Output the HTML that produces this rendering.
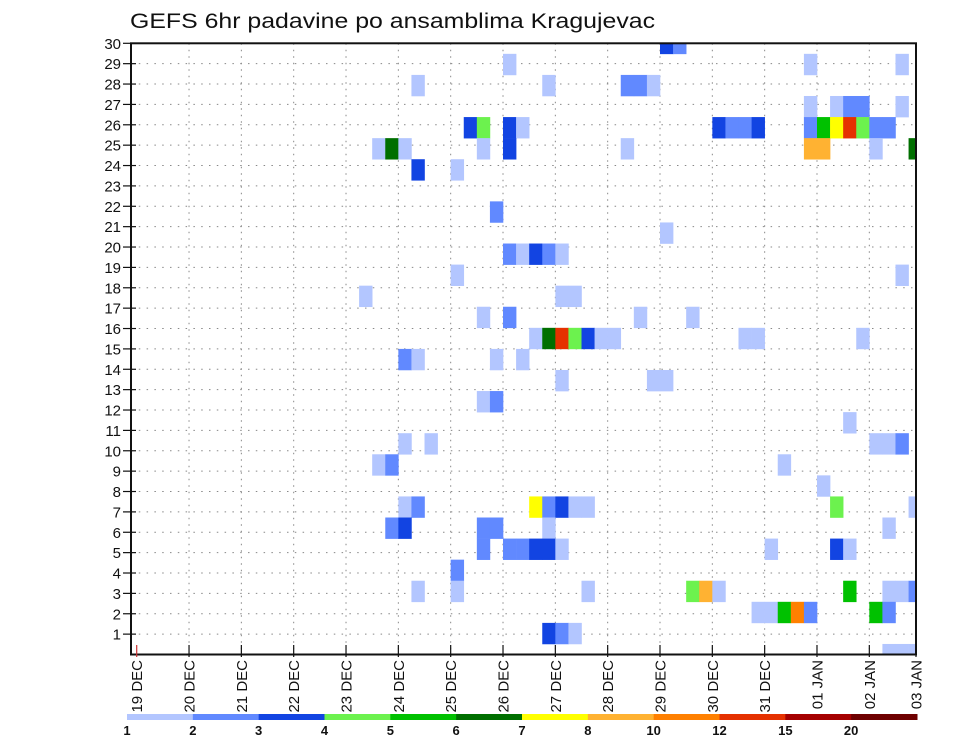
<!DOCTYPE html>
<html><head><meta charset="utf-8"><style>
html,body{margin:0;padding:0;background:#fff;}
svg{display:block;font-family:"Liberation Sans","DejaVu Sans",sans-serif;}
</style></head><body>
<svg id="chart" width="960" height="742" viewBox="0 0 960 742" xmlns="http://www.w3.org/2000/svg">
<defs><clipPath id="plotclip"><rect x="131" y="43.3" width="785" height="611.2"/></clipPath></defs>
<text x="130" y="28" font-size="21" textLength="525" lengthAdjust="spacingAndGlyphs" fill="#111">GEFS 6hr padavine po ansamblima Kragujevac</text>
<g id="grid"></g>
<g id="cells" clip-path="url(#plotclip)"></g>
<g id="axes"></g>
<g id="legend"></g>
</svg>
<script>
// ---- data ----
const dayLabels = ["19 DEC","20 DEC","21 DEC","22 DEC","23 DEC","24 DEC","25 DEC","26 DEC","27 DEC","28 DEC","29 DEC","30 DEC","31 DEC","01 JAN","02 JAN","03 JAN"];
const yTicks = [1,2,3,4,5,6,7,8,9,10,11,12,13,14,15,16,17,18,19,20,21,22,23,24,25,26,27,28,29,30];
const levelBounds = [1,2,3,4,5,6,7,8,10,12,15,20,25];
const levelLabels = ["1","2","3","4","5","6","7","8","10","12","15","20"];
const levelColors = ["#b3c6ff","#6189ff","#1244e2","#6cf24e","#00c100","#006f00","#ffff00","#ffb232","#ff8000","#e53100","#a50000","#6e0000"];
// member row (0 = top) , 6h step index from 19 DEC 00z, precipitation (mm)
const cellRow = [0,0,
1,1,1,
2,2,2,2,2,
3,3,3,3,3,
4,4,4,4,4,4,4,4,4,4,4,4,4,4,4,
5,5,5,5,5,5,5,5,5,5,
6,6, 8, 9,
10,10,10,10,10,
11,11, 12,12,12,
13,13,13,13,
14,14,14,14,14,14,14,14,14,14,
15,15,15,15,
16,16,16, 17,17, 18,
19,19,19,19,19,
20,20,20, 21,
22,22,22,22,22,22,22,22,22,
23,23,23,23,23,23,
24,24,24,24,24,24,24,24,24,
25,
26,26,26,26,26,26,26,26,26,26,
27,27,27,27,27,27,27,
28,28,28,
29,29,29];
const cellStep = [40,41,
28,51,58,
21,31,37,38,39,
51,53,54,55,58,
25,26,28,29,44,45,46,47,51,52,53,54,55,56,57,
18,19,20,26,28,37,51,52,56,59,
21,24, 27, 40,
28,29,30,31,32,
24,58, 17,32,33,
26,28,38,42,
30,31,32,33,34,35,36,46,47,55,
20,21,27,29,
32,39,40, 26,27, 54,
20,22,56,57,58,
18,19,49, 52,
20,21,30,31,32,33,34,53,59,
19,20,26,27,31,57,
26,28,29,30,31,32,48,53,54,
24,
21,24,34,42,43,44,54,57,58,59,
47,48,49,50,51,56,57,
31,32,33,
57,58,59];
const cellVal = [3.5,2.5,
1.5,1.5,1.5,
1.5,1.5,2.5,2.5,1.5,
1.5,1.5,2.5,2.5,1.5,
3.5,4.5,3.5,1.5,3.5,2.5,2.5,3.5,2.5,5.5,7.5,13.5,4.5,2.5,2.5,
1.5,6.5,1.5,1.5,3.5,1.5,9,9,1.5,6.5,
3.5,1.5, 2.5, 1.5,
2.5,1.5,3.5,2.5,1.5,
1.5,1.5, 1.5,1.5,1.5,
1.5,2.5,1.5,1.5,
1.5,6.5,13.5,4.5,3.5,1.5,1.5,1.5,1.5,1.5,
2.5,1.5,1.5,1.5,
1.5,1.5,1.5, 1.5,2.5, 1.5,
1.5,1.5,1.5,1.5,2.5,
1.5,2.5,1.5, 1.5,
1.5,2.5,7.5,2.5,3.5,1.5,1.5,4.5,1.5,
2.5,3.5,2.5,2.5,1.5,1.5,
2.5,2.5,2.5,3.5,3.5,1.5,1.5,3.5,1.5,
2.5,
1.5,1.5,1.5,4.5,9,1.5,5.5,1.5,1.5,2.5,
1.5,1.5,5.5,11,2.5,5.5,2.5,
3.5,2.5,1.5,
1.5,1.5,1.5];

// ---- scales ----
const NS = "http://www.w3.org/2000/svg";
const X0 = 136.7, DAY = 52.33, FL = 131, FR = 916, FT = 43.3, FB = 654.5;
const xDay = d => X0 + d * DAY;
const xStep = s => X0 + s * DAY / 4;
const yTick = v => FB - (FB - FT) * v / 30;
const rowPitch = (FB - FT) / 29;
const yRow = r => FT + r * rowPitch;
function colorFor(v){for(let i=0;i<levelColors.length;i++){if(v<levelBounds[i+1])return levelColors[i];}return levelColors[levelColors.length-1];}
function mk(tag, attrs, parent){const e=document.createElementNS(NS,tag);for(const k in attrs)e.setAttribute(k,attrs[k]);parent.appendChild(e);return e;}

const grid = document.getElementById('grid');
yTicks.forEach(v=>{
  const l = mk('line',{x1:FL,x2:FR,y1:yTick(v),y2:yTick(v),stroke:'#888','stroke-width':1,'stroke-dasharray':'1.5 6.3'},grid);
  
  
});
dayLabels.forEach((t,d)=>{
  if(d===0) return;
  const x = xDay(d); if(x>FR-1) return;
  const l = mk('line',{x1:x,x2:x,y1:FT,y2:FB,stroke:'#888','stroke-width':1,'stroke-dasharray':'1.5 5'},grid);
  
  
});

const cells = document.getElementById('cells');
for(let i=0;i<cellVal.length;i++){
  const x = xStep(cellStep[i]);
  const r = mk('rect',{x:x,y:yRow(cellRow[i])-rowPitch/2,width:DAY/4+0.3,height:rowPitch+0.3,fill:colorFor(cellVal[i])},cells);
  
  
}

const axes = document.getElementById('axes');
const frame = mk('rect',{x:FL,y:FT,width:FR-FL,height:FB-FT,fill:'none',stroke:'#111','stroke-width':2},axes);


yTicks.forEach(v=>{
  const y=yTick(v);
  const t = mk('line',{x1:123,x2:136,y1:y,y2:y,stroke:'#111','stroke-width':1.2},axes);
  
  
  const tx = mk('text',{x:121,y:y+5.5,'text-anchor':'end','font-size':15,fill:'#111'},axes);
  tx.textContent = v;
  
  
});
dayLabels.forEach((lab,d)=>{
  const x = Math.min(xDay(d), FR);
  const t = mk('line',{x1:x,x2:x,y1:645,y2:657,stroke:d===0?'#c33':'#111','stroke-width':1.2},axes);
  
  
  const tx = mk('text',{x:0,y:0,'text-anchor':'end','font-size':15,fill:'#111',transform:`translate(${x+5.5},${660}) rotate(-90)`},axes);
  tx.textContent = lab;
  
  
});

const legend = document.getElementById('legend');
const LX = 127, LW = (917-127)/levelColors.length;
levelColors.forEach((c,i)=>{
  const r = mk('rect',{x:LX+i*LW,y:714,width:LW+0.5,height:6,fill:c},legend);
  
  
});
levelLabels.forEach((lab,i)=>{
  const t = mk('text',{x:LX+i*LW,y:735,'text-anchor':'middle','font-size':13,'font-weight':'bold',fill:'#111'},legend);
  t.textContent = lab;
  
  
});
</script>
</body></html>
